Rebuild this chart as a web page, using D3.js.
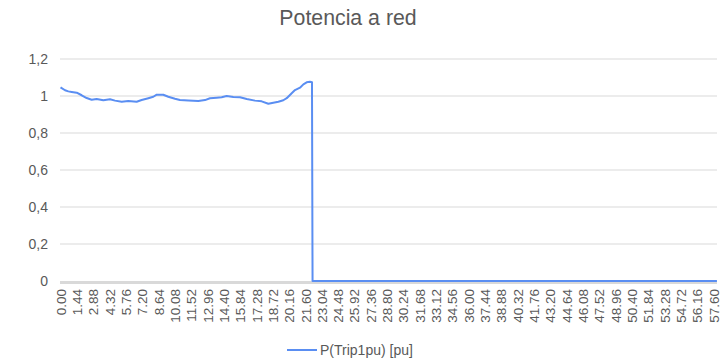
<!DOCTYPE html>
<html>
<head>
<meta charset="utf-8">
<script src="https://cdn.jsdelivr.net/npm/d3@7"></script>
<style>
  html, body { margin: 0; padding: 0; background: #fff; }
  svg { display: block; font-family: "Liberation Sans", Arial, sans-serif; }
</style>
</head>
<body>
<svg id="chart" width="722" height="361"></svg>
<script>
// Time (s) and injected power (pu)
const times = [
  0, 0.40, 0.69, 0.99, 1.43, 1.87, 2.31, 2.75, 3.19, 3.78, 4.37, 4.81, 5.40, 5.98,
  6.72, 7.16, 7.75, 8.19, 8.49, 9.07, 9.51, 10.10, 10.54, 11.28, 12.16, 12.75, 13.19,
  13.78, 14.22, 14.66, 15.25, 15.84, 16.43, 17.16, 17.75, 18.34, 18.78, 19.22, 19.66,
  19.96, 20.40, 20.69, 21.13, 21.43, 21.72, 22.01, 22.19, 22.24, 57.92
];
const power = [
  1.047, 1.031, 1.025, 1.022, 1.018, 1.004, 0.989, 0.980, 0.984, 0.977, 0.982, 0.975, 0.969, 0.973,
  0.969, 0.978, 0.988, 0.996, 1.007, 1.007, 0.996, 0.985, 0.978, 0.976, 0.973, 0.978, 0.988,
  0.991, 0.993, 1.000, 0.995, 0.993, 0.984, 0.975, 0.971, 0.958, 0.964, 0.969, 0.977,
  0.988, 1.015, 1.032, 1.045, 1.063, 1.074, 1.077, 1.074, 0, 0
];

const xTickLabels = [
  "0.00", "1.44", "2.88", "4.32", "5.76", "7.20", "8.64", "10.08", "11.52", "12.96",
  "14.40", "15.84", "17.28", "18.72", "20.16", "21.60", "23.04", "24.48", "25.92", "27.36",
  "28.80", "30.24", "31.68", "33.12", "34.56", "36.00", "37.44", "38.88", "40.32", "41.76",
  "43.20", "44.64", "46.08", "47.52", "48.96", "50.40", "51.84", "53.28", "54.72", "56.16", "57.60"
];
const yTicks = [0, 0.2, 0.4, 0.6, 0.8, 1, 1.2];
const yTickLabels = ["0", "0,2", "0,4", "0,6", "0,8", "1", "1,2"];

const title = "Potencia a red";
const seriesName = "P(Trip1pu) [pu]";

const textColor = "#595959";
const gridColor = "#d9d9d9";
const lineColor = "#5a8ef2";

const svg = d3.select("#chart");
const plotLeft = 60, plotRight = 717;

const x = d3.scaleLinear().domain([0, 57.6]).range([60.5, 713.3]);
const y = d3.scaleLinear().domain([0, 1.2]).range([281, 59]);

// Title
svg.append("text")
  .attr("x", 348).attr("y", 25)
  .attr("text-anchor", "middle")
  .attr("font-size", 21.3)
  .attr("fill", textColor)
  .text(title);

// Horizontal gridlines
svg.append("g")
  .selectAll("line")
  .data(yTicks.filter(d => d !== 0))
  .join("line")
  .attr("x1", plotLeft).attr("x2", plotRight)
  .attr("y1", d => y(d)).attr("y2", d => y(d))
  .attr("stroke", gridColor).attr("stroke-width", 1);

// Y axis labels
const yAxis = d3.axisLeft(y)
  .tickValues(yTicks)
  .tickSize(0)
  .tickPadding(0)
  .tickFormat((d, i) => yTickLabels[i]);
const gy = svg.append("g").attr("transform", "translate(48,0)").call(yAxis);
gy.select(".domain").remove();
gy.selectAll("text")
  .attr("font-size", 14)
  .attr("fill", textColor)
  .attr("font-family", "'Liberation Sans', Arial, sans-serif");

// Baseline (category axis)
svg.append("line")
  .attr("x1", plotLeft).attr("x2", plotRight)
  .attr("y1", y(0) + 1.5).attr("y2", y(0) + 1.5)
  .attr("stroke", gridColor).attr("stroke-width", 3);

// X axis labels, rotated
const xAxis = d3.axisBottom(x)
  .tickValues(xTickLabels.map(Number))
  .tickSize(0)
  .tickPadding(0)
  .tickFormat((d, i) => xTickLabels[i]);
const gx = svg.append("g").attr("transform", `translate(0,${y(0)})`).call(xAxis);
gx.select(".domain").remove();
gx.selectAll("text")
  .attr("font-size", 13.5)
  .attr("fill", textColor)
  .attr("font-family", "'Liberation Sans', Arial, sans-serif")
  .attr("transform", "rotate(-90)")
  .attr("text-anchor", "end")
  .attr("x", -8)
  .attr("y", 0)
  .attr("dy", "0.35em");

// Series line
const pts = times.map((t, i) => [t, power[i]]);
svg.append("path")
  .datum(pts)
  .attr("fill", "none")
  .attr("stroke", lineColor)
  .attr("stroke-width", 2)
  .attr("stroke-linejoin", "round")
  .attr("d", d3.line().x(d => x(d[0])).y(d => y(d[1])));

// Legend
const lg = svg.append("g").attr("transform", "translate(287,350)");
lg.append("line")
  .attr("x1", 0).attr("x2", 30).attr("y1", 0).attr("y2", 0)
  .attr("stroke", lineColor).attr("stroke-width", 2);
lg.append("text")
  .attr("x", 33).attr("y", 0).attr("dy", "0.35em")
  .attr("font-size", 14)
  .attr("fill", textColor)
  .text(seriesName);
</script>
</body>
</html>
